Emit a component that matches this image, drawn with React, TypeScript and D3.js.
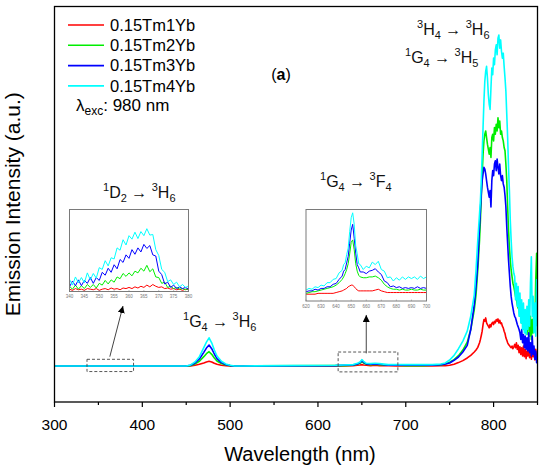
import * as d3 from "d3";

const FONT = "'Liberation Sans', Arial, Helvetica, sans-serif";

// main spectrum: wavelength grid (nm) and intensity (a.u.) per sample
const wavelength = [
  300, 440, 450, 455, 460, 465, 470, 473, 476, 479, 482, 485, 490, 495, 500, 505, 515,
  620, 630, 640, 645, 648, 650, 652, 655, 660, 665, 670, 680, 690, 700, 710, 720, 730, 740,
  745, 750, 755, 760, 765, 770, 774, 778, 780, 782, 784,
  785, 786, 787, 788, 789, 790, 791, 792, 793, 794, 795, 796, 797, 798, 799, 800, 801, 802,
  803, 804, 805, 806, 807, 808, 809, 810, 811, 812, 813, 814, 815, 816, 817, 818, 819, 820,
  821, 822, 823, 824, 825, 826, 827, 828, 829, 830, 831, 832, 833, 834, 835, 836, 837, 838,
  839, 840, 841, 842, 843, 844, 845, 846, 847, 848, 849, 850,
];

const tm1 = [
  0, 0, 0, 0, 2, 5, 9, 12, 14, 12, 8, 5, 2, 1, 0, 0, 0,
  0, 0, 1, 2, 3, 4, 3, 2, 1, 2, 1, 1, 0, 0, 0, 0, 0, 1,
  1, 2, 5, 10, 16, 24, 32, 42, 48, 56, 70,
  80, 92, 105, 125, 140, 135, 145, 130, 125, 120, 115, 125, 118, 128, 132, 125, 135, 130,
  140, 135, 142, 130, 138, 128, 130, 120, 115, 105, 98, 85, 78, 70, 65, 62, 58, 55,
  60, 52, 58, 65, 55, 70, 50, 62, 40, 58, 35, 55, 30, 60, 28, 50, 22, 45,
  30, 48, 25, 52, 20, 45, 28, 40, 18, 50, 25, 30,
];

const tm2 = [
  0, 0, 0, 1, 6, 14, 28, 37, 43, 35, 24, 15, 7, 3, 1, 0, 0,
  1, 1, 2, 5, 8, 13, 9, 5, 4, 5, 4, 2, 2, 1, 1, 1, 2, 3,
  6, 11, 19, 31, 48, 72, 110, 170, 215, 290, 380,
  440, 510, 580, 640, 680, 700, 710, 690, 670, 655, 640, 660, 630, 690, 700, 680, 720, 700,
  730, 710, 750, 720, 740, 700, 710, 690, 680, 660, 650, 610, 560, 480, 410, 360, 320, 290,
  270, 250, 240, 225, 210, 200, 185, 175, 170, 150, 175, 130, 160, 110, 150, 100, 140, 95,
  130, 120, 90, 150, 80, 140, 100, 180, 120, 260, 340, 200,
];

const tm3 = [
  0, 0, 0, 2, 9, 21, 41, 54, 63, 52, 36, 22, 10, 4, 1, 0, 0,
  1, 2, 3, 6, 10, 16, 11, 6, 5, 6, 5, 2, 2, 2, 2, 2, 2, 4,
  6, 9, 17, 27, 42, 62, 110, 185, 240, 310, 420,
  470, 520, 560, 580, 600, 595, 580, 560, 540, 525, 510, 530, 480, 560, 590, 575, 610, 620,
  590, 625, 600, 580, 610, 575, 560, 575, 550, 540, 515, 480, 420, 370, 320, 280, 240, 210,
  190, 175, 160, 150, 145, 135, 125, 118, 110, 100, 80, 110, 70, 95, 55, 90, 50, 85,
  45, 100, 40, 70, 30, 90, 35, 60, 20, 45, 10, 20,
];

const tm4 = [
  0, 0, 0, 3, 12, 28, 55, 72, 85, 70, 48, 30, 14, 6, 2, 0, 0,
  2, 3, 4, 8, 12, 19, 14, 8, 7, 8, 7, 4, 4, 4, 4, 4, 4, 6,
  9, 18, 32, 52, 75, 105, 150, 215, 290, 380, 460,
  500, 560, 640, 720, 800, 860, 890, 905, 870, 820, 790, 775, 840, 900, 880, 930, 910, 955,
  970, 940, 990, 1000, 960, 985, 950, 930, 945, 905, 870, 830, 760, 690, 600, 530, 440, 380,
  330, 300, 280, 270, 200, 250, 180, 240, 150, 220, 130, 200, 110, 190, 100, 170, 95, 180,
  110, 200, 120, 250, 330, 150, 210, 100, 190, 90, 260, 120,
];

// inset (1D2 -> 3H6), 340-380 nm
const insetAWl = [
  340, 341, 342, 343, 344, 345, 346, 347, 348, 349, 350, 351, 352, 353, 354, 355, 356, 357,
  358, 359, 360, 361, 362, 363, 364, 365, 366, 367, 368, 369, 370, 371, 372, 373, 374, 375,
  376, 377, 378, 379, 380,
];
const insetA1 = [1, -1, 2, 0, 1, -1, 2, 1, 0, 2, -1, 1, 2, 0, 3, 1, 2, 0, 3, 2, 4, 2, 5, 3, 6, 4, 8, 5, 9, 6, 4, 5, 2, 3, 1, 2, 0, 1, -1, 1, 0];
const insetA2 = [6, 1, 8, 1, 7, 2, 9, 4, 9, 3, 11, 8, 16, 10, 17, 13, 22, 19, 28, 23, 29, 24, 32, 29, 37, 32, 42, 31, 36, 22, 21, 11, 13, 4, 6, 2, 4, 1, 2, 0, 2];
const insetA3 = [5, 15, 7, 17, 7, 16, 11, 21, 11, 21, 16, 30, 25, 37, 30, 43, 36, 52, 47, 60, 54, 69, 61, 72, 65, 78, 71, 76, 60, 58, 32, 26, 10, 13, 4, 8, 2, 5, 2, 4, 1];
const insetA4 = [18, 8, 22, 12, 21, 12, 29, 17, 28, 20, 38, 35, 50, 41, 55, 53, 72, 68, 86, 77, 93, 87, 99, 88, 100, 93, 105, 94, 95, 69, 59, 35, 30, 14, 17, 9, 13, 5, 9, 4, 6];
const insetATicks = ["340", "345", "350", "355", "360", "365", "370", "375", "380"];

// inset (1G4 -> 3F4), 620-700 nm
const insetBWl = [
  620, 622, 624, 626, 628, 630, 632, 634, 636, 638, 640, 642, 644,
  645, 646, 647, 648, 649, 650, 651, 652, 653, 654, 655, 656,
  658, 660, 662, 664, 666, 668, 670, 672, 674, 676, 678, 680, 682, 684, 686, 688, 690, 692,
  694, 696, 698, 700,
];
const insetB1 = [1, 1, 1, 1, 2, 2, 2, 2, 2, 2, 3, 4, 5, 6, 7, 8, 10, 11, 12, 12, 10, 8, 6, 5, 5, 5, 5, 5, 5, 6, 7, 5, 4, 3, 3, 3, 3, 3, 3, 3, 3, 3, 3, 3, 3, 3, 3];
const insetB2 = [2, 3, 4, 4, 5, 6, 7, 8, 9, 10, 12, 15, 19, 22, 26, 31, 38, 50, 64, 67, 55, 38, 29, 24, 22, 21, 21, 22, 22, 23, 21, 18, 13, 10, 8, 7, 7, 6, 7, 6, 6, 7, 6, 6, 7, 6, 6];
const insetB3 = [4, 5, 5, 7, 6, 8, 8, 10, 10, 13, 14, 19, 23, 29, 31, 39, 47, 63, 79, 86, 69, 51, 37, 33, 28, 28, 26, 29, 30, 32, 28, 25, 17, 15, 10, 11, 9, 10, 8, 9, 8, 9, 8, 10, 8, 9, 8];
const insetB4 = [6, 8, 7, 10, 9, 12, 11, 15, 15, 19, 20, 27, 30, 37, 39, 49, 57, 77, 94, 100, 86, 60, 50, 38, 37, 31, 35, 33, 40, 37, 41, 31, 29, 21, 22, 17, 21, 18, 22, 19, 22, 20, 22, 19, 23, 20, 22];
const insetBTicks = ["620", "630", "640", "650", "660", "670", "680", "690", "700"];

const seriesNames = ["0.15Tm1Yb", "0.15Tm2Yb", "0.15Tm3Yb", "0.15Tm4Yb"];
const seriesColors = ["#ff0000", "#00ee00", "#0000ff", "#00ffff"];
const xMajor = [300, 400, 500, 600, 700, 800];
const xMinor = [350, 450, 550, 650, 750, 850];

const width = 550;
const height = 465;
const plot = { left: 54.5, right: 537.5, top: 6.5, bottom: 402 };

function Transition({ x, y, from, to }: { x: number; y: number; from: string[]; to: string[] }) {
  const s = 11;
  return (
    <text x={x} y={y} fontSize={16} fontFamily={FONT} fill="#111" style={{ whiteSpace: "pre" }}>
      <tspan fontSize={s} dy={-7}>{from[0]}</tspan>
      <tspan dy={7}>{from[1]}</tspan>
      <tspan fontSize={s} dy={4}>{from[2]}</tspan>
      <tspan dy={-4}>{" \u2192 "}</tspan>
      <tspan fontSize={s} dy={-7}>{to[0]}</tspan>
      <tspan dy={7}>{to[1]}</tspan>
      <tspan fontSize={s} dy={4}>{to[2]}</tspan>
    </text>
  );
}

function Inset({
  box, wl, series, domainX, domainY, ticks,
}: {
  box: { x0: number; y0: number; x1: number; y1: number };
  wl: number[];
  series: number[][];
  domainX: [number, number];
  domainY: [number, number];
  ticks: string[];
}) {
  const ix = d3.scaleLinear().domain(domainX).range([box.x0, box.x1]);
  const iy = d3.scaleLinear().domain(domainY).range([box.y1, box.y0]);
  const line = (vals: number[]) =>
    d3.line<number>().x((_, i) => ix(wl[i])).y((d) => iy(d))(vals) ?? "";
  return (
    <g>
      <defs>
        <clipPath id={`clip-${box.x0}`}>
          <rect x={box.x0} y={box.y0} width={box.x1 - box.x0} height={box.y1 - box.y0} />
        </clipPath>
      </defs>
      <rect x={box.x0} y={box.y0} width={box.x1 - box.x0} height={box.y1 - box.y0} fill="white" />
      <g clipPath={`url(#clip-${box.x0})`}>
        {series.map((s, i) => (
          <path key={i} d={line(s)} fill="none" stroke={seriesColors[i]} strokeWidth={1} />
        ))}
      </g>
      <rect x={box.x0} y={box.y0} width={box.x1 - box.x0} height={box.y1 - box.y0} fill="none" stroke="#7a7a7a" strokeWidth={1} />
      {ticks.map((t) => (
        <g key={t}>
          <line x1={ix(+t)} x2={ix(+t)} y1={box.y1} y2={box.y1 - 1.5} stroke="#7a7a7a" strokeWidth={0.5} />
          <text x={ix(+t)} y={box.y1 + 6.5} fontSize={4.5} fill="#777" textAnchor="middle" fontFamily={FONT}>{t}</text>
        </g>
      ))}
    </g>
  );
}

export default function App() {
  const x = d3.scaleLinear().domain([300, 850]).range([plot.left, plot.right]);
  const y = d3.scaleLinear().domain([-109, 1086]).range([plot.bottom, plot.top]);
  const line = d3.line<number>().x((_, i) => x(wavelength[i])).y((d) => y(d));
  const main = [tm1, tm2, tm3, tm4];

  // dashed selection boxes and pointer arrows (data coords)
  const boxA = { x0: x(337), x1: x(390), y0: y(20), y1: y(-17) };
  const boxB = { x0: x(623), x1: x(691), y0: y(42), y1: y(-18) };
  const arrows = [
    { x1: x(363), y1: y(28), x2: x(378), y2: y(181) },
    { x1: x(655), y1: y(38), x2: x(655), y2: y(154) },
  ];

  return (
    <svg width={width} height={height} style={{ position: "absolute", left: 0, top: 0, background: "white" }} fontFamily={FONT}>
      <defs>
        <marker id="head" viewBox="0 0 10 10" refX="10" refY="5" markerWidth="7" markerHeight="7" markerUnits="userSpaceOnUse" orient="auto">
          <path d="M0,0 L10,5 L0,10 Z" fill="#000" />
        </marker>
        <clipPath id="plot-clip">
          <rect x={plot.left} y={plot.top} width={plot.right - plot.left} height={plot.bottom - plot.top} />
        </clipPath>
      </defs>

      <g clipPath="url(#plot-clip)">
        {main.map((s, i) => (
          <path key={i} d={line(s) ?? ""} fill="none" stroke={seriesColors[i]} strokeWidth={1.6} strokeLinejoin="round" />
        ))}
      </g>

      {[boxA, boxB].map((b, i) => (
        <rect key={i} x={b.x0} y={b.y0} width={b.x1 - b.x0} height={b.y1 - b.y0} fill="none" stroke="#444" strokeWidth={0.9} strokeDasharray="3,2" />
      ))}
      {arrows.map((a, i) => (
        <line key={i} x1={a.x1} y1={a.y1} x2={a.x2} y2={a.y2} stroke="#444" strokeWidth={1} markerEnd="url(#head)" />
      ))}

      <Inset
        box={{ x0: 69.5, y0: 209.5, x1: 188.5, y1: 291.5 }}
        wl={insetAWl}
        series={[insetA1, insetA2, insetA3, insetA4]}
        domainX={[340, 380]}
        domainY={[-3, 138]}
        ticks={insetATicks}
      />
      <Inset
        box={{ x0: 306, y0: 209.5, x1: 426.5, y1: 301 }}
        wl={insetBWl}
        series={[insetB1, insetB2, insetB3, insetB4]}
        domainX={[620, 700]}
        domainY={[-7.3, 104]}
        ticks={insetBTicks}
      />

      {/* frame */}
      <rect x={plot.left} y={plot.top} width={plot.right - plot.left} height={plot.bottom - plot.top} fill="none" stroke="#000" strokeWidth={1.3} />

      {/* x axis */}
      {xMajor.map((t) => (
        <g key={t}>
          <line x1={x(t)} x2={x(t)} y1={plot.bottom} y2={plot.bottom + 5} stroke="#000" strokeWidth={1.2} />
          <text x={x(t)} y={plot.bottom + 28} fontSize={15.5} textAnchor="middle" fill="#000">{t}</text>
        </g>
      ))}
      {xMinor.map((t) => (
        <line key={t} x1={x(t)} x2={x(t)} y1={plot.bottom} y2={plot.bottom + 3} stroke="#000" strokeWidth={1.2} />
      ))}
      <text x={300} y={460.5} fontSize={20} textAnchor="middle" fill="#000">Wavelength (nm)</text>
      <text transform={`translate(20,${(plot.top + plot.bottom) / 2}) rotate(-90)`} fontSize={21} textAnchor="middle" fill="#000">Emission Intensity (a.u.)</text>

      {/* legend */}
      {seriesNames.map((n, i) => (
        <g key={n} transform={`translate(68,${25 + i * 20.3})`}>
          <line x1={0} x2={36} y1={0} y2={0} stroke={seriesColors[i]} strokeWidth={1.6} />
          <text x={42} y={5.8} fontSize={16.5} fill="#000">{n}</text>
        </g>
      ))}
      <text x={76} y={111} fontSize={17} fill="#000">
        {"\u03bb"}
        <tspan fontSize={12} dy={4}>exc</tspan>
        <tspan dy={-4}>: 980 nm</tspan>
      </text>

      <text x={281} y={80} fontSize={16} textAnchor="middle" fill="#000">
        (<tspan fontWeight="bold">a</tspan>)
      </text>

      <Transition x={417} y={35} from={["3", "H", "4"]} to={["3", "H", "6"]} />
      <Transition x={405} y={63} from={["1", "G", "4"]} to={["3", "H", "5"]} />
      <Transition x={103} y={198} from={["1", "D", "2"]} to={["3", "H", "6"]} />
      <Transition x={320} y={187} from={["1", "G", "4"]} to={["3", "F", "4"]} />
      <Transition x={183} y={327} from={["1", "G", "4"]} to={["3", "H", "6"]} />
    </svg>
  );
}
